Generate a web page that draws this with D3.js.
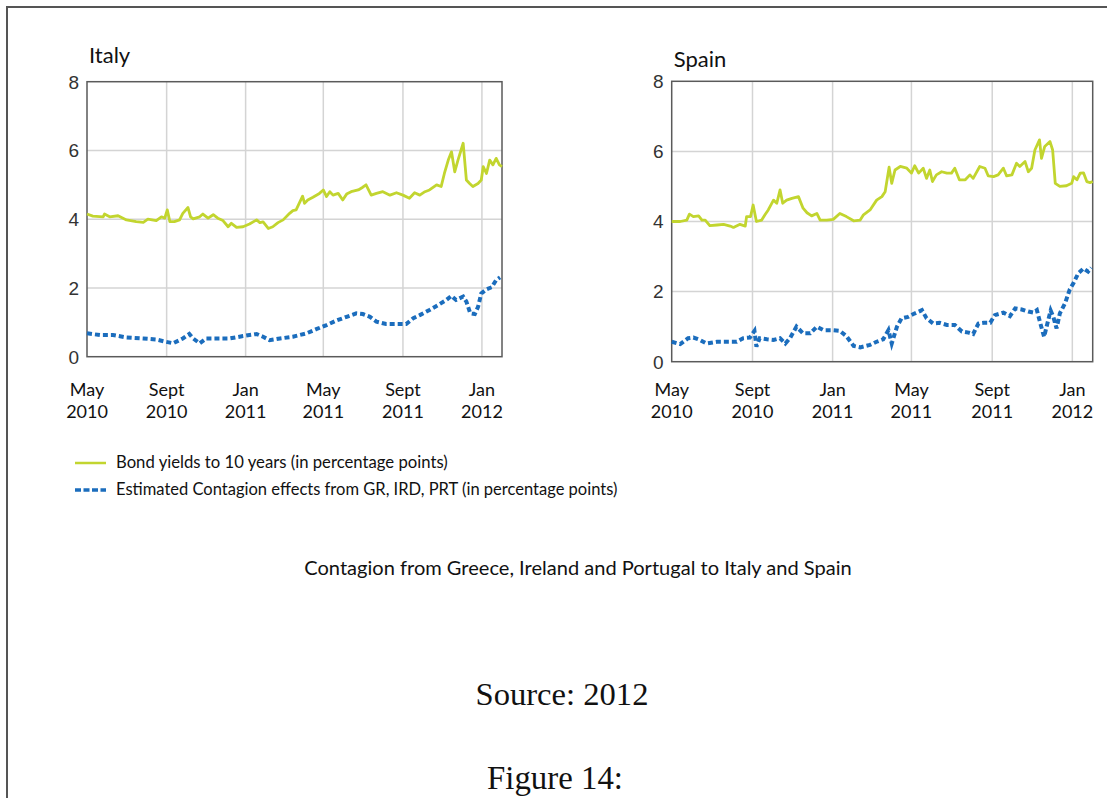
<!DOCTYPE html>
<html><head><meta charset="utf-8">
<script src="https://cdn.jsdelivr.net/npm/d3@7"></script>
<style>html,body{margin:0;padding:0;background:#fff;}svg{display:block;}</style>
</head><body>
<svg id="c" width="1107" height="798"></svg>
<script>
// ---- data: [days since 1 May 2010, value in percentage points] ----
const startDate = "2010-05-01";
const endDate = "2012-02-01";
const italyYield = [[0,4.15],[9,4.09],[25,4.07],[27,4.15],[35,4.07],[48,4.10],[61,3.98],[76,3.93],[87,3.91],[94,4.00],[107,3.96],[115,4.07],[120,4.03],[124,4.27],[128,3.93],[135,3.93],[143,3.98],[148,4.17],[156,4.34],[160,4.07],[164,4.01],[174,4.07],[179,4.15],[187,4.03],[195,4.13],[202,4.03],[210,3.96],[218,3.78],[223,3.88],[231,3.76],[241,3.78],[251,3.86],[262,3.98],[267,3.90],[272,3.92],[280,3.73],[287,3.78],[295,3.90],[303,3.98],[313,4.17],[318,4.25],[323,4.27],[329,4.51],[333,4.67],[336,4.46],[341,4.56],[349,4.64],[359,4.75],[365,4.85],[370,4.66],[375,4.80],[380,4.70],[388,4.75],[395,4.56],[401,4.73],[408,4.80],[419,4.85],[426,4.93],[431,5.00],[439,4.70],[447,4.75],[457,4.80],[468,4.70],[478,4.77],[488,4.70],[498,4.61],[506,4.77],[514,4.70],[522,4.80],[529,4.85],[540,5.00],[547,4.95],[552,5.33],[558,5.72],[563,5.96],[568,5.38],[573,5.72],[581,6.21],[586,5.14],[591,5.04],[596,4.95],[604,5.04],[609,5.14],[612,5.53],[617,5.33],[622,5.72],[627,5.58],[632,5.77],[637,5.58],[641,5.53]];
const italyContagion = [[0,0.68],[20,0.63],[40,0.63],[61,0.56],[87,0.53],[107,0.50],[120,0.44],[133,0.39],[148,0.53],[158,0.66],[164,0.53],[174,0.39],[184,0.53],[200,0.53],[220,0.53],[241,0.60],[262,0.66],[272,0.58],[282,0.48],[298,0.53],[318,0.58],[339,0.68],[354,0.80],[370,0.92],[385,1.05],[401,1.16],[416,1.26],[426,1.24],[437,1.16],[447,1.02],[462,0.95],[478,0.95],[493,0.95],[504,1.12],[514,1.21],[529,1.36],[542,1.50],[555,1.65],[563,1.77],[570,1.65],[581,1.75],[586,1.60],[592,1.26],[599,1.24],[604,1.45],[609,1.84],[617,1.96],[625,2.02],[632,2.23],[638,2.31]];
const spainYield = [[0,4.00],[13,4.00],[23,4.04],[27,4.21],[33,4.14],[41,4.16],[46,4.04],[51,4.04],[58,3.88],[69,3.90],[79,3.92],[89,3.87],[94,3.83],[104,3.92],[112,3.87],[114,4.14],[120,4.14],[124,4.47],[129,4.00],[137,4.04],[142,4.19],[147,4.33],[155,4.61],[160,4.52],[165,4.90],[169,4.52],[175,4.61],[183,4.66],[193,4.71],[200,4.38],[206,4.25],[213,4.16],[221,4.23],[226,4.04],[236,4.04],[246,4.06],[256,4.23],[266,4.14],[277,4.02],[287,4.04],[292,4.19],[302,4.33],[312,4.61],[320,4.71],[325,4.85],[331,5.55],[335,5.09],[340,5.47],[348,5.57],[358,5.52],[365,5.38],[370,5.59],[376,5.38],[383,5.52],[388,5.23],[393,5.47],[397,5.14],[403,5.33],[411,5.42],[419,5.38],[426,5.38],[431,5.52],[438,5.19],[447,5.19],[454,5.33],[459,5.23],[469,5.57],[477,5.52],[482,5.30],[490,5.28],[497,5.33],[505,5.52],[510,5.30],[518,5.33],[525,5.66],[530,5.57],[538,5.71],[543,5.42],[548,5.52],[553,6.04],[560,6.33],[563,5.80],[568,6.14],[576,6.28],[580,6.04],[584,5.09],[591,5.00],[601,5.02],[609,5.09],[612,5.28],[617,5.19],[622,5.38],[627,5.39],[632,5.14],[637,5.11],[641,5.14]];
const spainContagion = [[0,0.57],[13,0.50],[25,0.67],[33,0.69],[43,0.62],[53,0.52],[69,0.57],[84,0.57],[99,0.57],[109,0.67],[119,0.69],[126,0.88],[129,0.43],[134,0.67],[145,0.64],[155,0.62],[165,0.67],[173,0.52],[180,0.67],[190,1.00],[200,0.81],[211,0.81],[221,1.00],[231,0.90],[244,0.90],[256,0.88],[266,0.73],[277,0.45],[287,0.41],[302,0.48],[312,0.57],[322,0.64],[330,0.90],[335,0.52],[343,1.00],[350,1.24],[360,1.28],[368,1.36],[381,1.47],[388,1.24],[398,1.09],[408,1.11],[419,1.05],[431,1.05],[442,0.86],[452,0.83],[459,0.79],[467,1.09],[475,1.11],[485,1.11],[492,1.33],[505,1.40],[515,1.30],[523,1.52],[533,1.49],[543,1.43],[551,1.40],[556,1.47],[561,1.11],[567,0.71],[572,1.09],[577,1.46],[581,1.28],[586,0.95],[591,1.38],[599,1.67],[606,2.06],[612,2.25],[619,2.52],[627,2.66],[634,2.57],[639,2.68]];
const tickDates = ["2010-05-01","2010-09-01","2011-01-01","2011-05-01","2011-09-01","2012-01-01"];
const tickLabels = [["May","2010"],["Sept","2010"],["Jan","2011"],["May","2011"],["Sept","2011"],["Jan","2012"]];
const yTicks = [0,2,4,6,8];
const panelTitles = ["Italy","Spain"];
const legendLabels = ["Bond yields to 10 years (in percentage points)","Estimated Contagion effects from GR, IRD, PRT (in percentage points)"];
const captionText = "Contagion from Greece, Ireland and Portugal to Italy and Spain";
const sourceText = "Source: 2012";
const figureText = "Figure 14:";

const GREEN = "#c2d52f", BLUE = "#1b6dbd";
const svg = d3.select("#c");
const parse = d3.utcParse("%Y-%m-%d");
const t0 = parse(startDate);

// page frame
svg.append("path").attr("d","M7,798 L7,7 L1107,7").attr("fill","none").attr("stroke","#555").attr("stroke-width",2);

function fitText(sel, width){
  const w = sel.node().getComputedTextLength();
  const fs = parseFloat(sel.attr("font-size"));
  sel.attr("font-size", fs*width/w);
}

function panel(cfg){
  const x = d3.scaleUtc().domain([t0, parse(endDate)]).range([cfg.x0, cfg.x1]);
  const y = d3.scaleLinear().domain([0,8]).range([cfg.y0, cfg.y1]);
  const g = svg.append("g");
  // grid
  g.append("g").selectAll("line").data(yTicks.slice(1,4)).join("line")
    .attr("x1",cfg.x0).attr("x2",cfg.x1).attr("y1",d=>y(d)).attr("y2",d=>y(d))
    .attr("stroke","#d4d4d4").attr("stroke-width",1.5);
  g.append("g").selectAll("line").data(tickDates.slice(1)).join("line")
    .attr("x1",d=>x(parse(d))).attr("x2",d=>x(parse(d))).attr("y1",cfg.y1).attr("y2",cfg.y0)
    .attr("stroke","#d4d4d4").attr("stroke-width",1.5);
  // frame
  g.append("rect").attr("x",cfg.x0).attr("y",cfg.y1).attr("width",cfg.x1-cfg.x0).attr("height",cfg.y0-cfg.y1)
    .attr("fill","none").attr("stroke","#5a5a5a").attr("stroke-width",1.5);
  // y labels
  g.append("g").selectAll("text").data(yTicks).join("text")
    .attr("x",cfg.x0-8).attr("y",d=>y(d)).attr("dy","0.36em").attr("text-anchor","end")
    .attr("font-family","'Liberation Sans', Arial, sans-serif").attr("font-size",19).attr("fill","#333")
    .text(d=>d);
  // x labels
  const xl = g.append("g").selectAll("text").data(tickDates).join("text")
    .attr("text-anchor","middle").attr("font-family","Lato, sans-serif").attr("font-size",18).attr("fill","#111")
    .attr("transform",d=>`translate(${x(parse(d))},0)`);
  xl.append("tspan").attr("x",0).attr("y",396).text((d,i)=>tickLabels[i][0]);
  xl.append("tspan").attr("x",0).attr("y",418).text((d,i)=>tickLabels[i][1]);
  // title
  g.append("text").attr("x",cfg.x0+2).attr("y",cfg.titleY).attr("font-family","Lato, sans-serif")
    .attr("font-size",22).attr("fill","#111").text(cfg.title);
  // lines
  const line = d3.line().x(d=>x(d3.utcDay.offset(t0,d[0]))).y(d=>y(d[1]));
  g.append("path").datum(cfg.yieldData).attr("d",line).attr("fill","none")
    .attr("stroke",GREEN).attr("stroke-width",2.8).attr("stroke-linejoin","round");
  g.append("path").datum(cfg.contData).attr("d",line).attr("fill","none")
    .attr("stroke",BLUE).attr("stroke-width",4).attr("stroke-dasharray","5,3");
}

panel({x0:87,x1:502,y0:356.7,y1:81.7,title:panelTitles[0],titleY:63,yieldData:italyYield,contData:italyContagion});
panel({x0:671.7,x1:1092.7,y0:361.7,y1:81.3,title:panelTitles[1],titleY:67,yieldData:spainYield,contData:spainContagion});

// legend
const lg = svg.append("g");
lg.append("line").attr("x1",75).attr("x2",106).attr("y1",463).attr("y2",463).attr("stroke",GREEN).attr("stroke-width",2.5);
lg.append("line").attr("x1",75).attr("x2",106).attr("y1",490).attr("y2",490).attr("stroke",BLUE).attr("stroke-width",3.5).attr("stroke-dasharray","6,2.5");
const l1 = lg.append("text").attr("x",116).attr("y",468).attr("font-family","Lato, sans-serif").attr("font-size",15).attr("fill","#111").text(legendLabels[0]);
fitText(l1, 332);
const l2 = lg.append("text").attr("x",116).attr("y",495).attr("font-family","Lato, sans-serif").attr("font-size",15).attr("fill","#111").text(legendLabels[1]);
fitText(l2, 502);

const cap = svg.append("text").attr("x",578).attr("y",575).attr("text-anchor","middle").attr("font-family","Lato, sans-serif").attr("font-size",18).attr("fill","#111").text(captionText);
fitText(cap, 548);
const src = svg.append("text").attr("x",562).attr("y",705).attr("text-anchor","middle").attr("font-family","'Liberation Serif', serif").attr("font-size",26).attr("fill","#111").text(sourceText);
fitText(src, 173);
const fig = svg.append("text").attr("x",555).attr("y",789).attr("text-anchor","middle").attr("font-family","'Liberation Serif', serif").attr("font-size",26).attr("fill","#111").text(figureText);
fitText(fig, 136);
</script>
</body></html>
